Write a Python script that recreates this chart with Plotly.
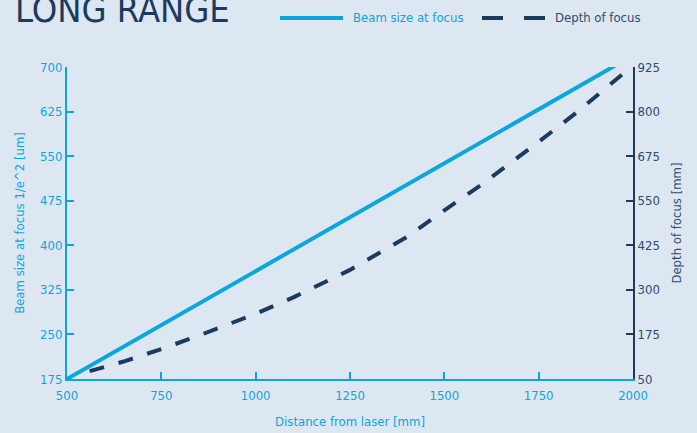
import plotly.graph_objects as go

# ---- data ----
distance_beam = [500, 750, 1000, 1250, 1500, 1750, 1960]
beam_size = [175, 266, 357, 447, 538, 629, 705]

distance_depth = [560, 650, 750, 850, 1000, 1100, 1250, 1400, 1500, 1600, 1750, 1850, 1995]
depth_focus = [72, 99, 134, 172, 233, 279, 356, 448, 523, 596, 715, 797, 925]

x_ticks = [500, 750, 1000, 1250, 1500, 1750, 2000]
y1_ticks = [175, 250, 325, 400, 475, 550, 625, 700]
y2_ticks = [50, 175, 300, 425, 550, 675, 800, 925]

CYAN = "#0aa6dc"
NAVY = "#1c3a5e"
NAVY_TXT = "#2f4b6e"
BG = "#dde7f1"
FONT = "DejaVu Sans Condensed, Liberation Sans Narrow, sans-serif"
FS = 13

fig = go.Figure()
fig.add_trace(go.Scatter(x=distance_beam, y=beam_size, mode="lines",
                         line=dict(color=CYAN, width=4), name="Beam size at focus",
                         showlegend=False, yaxis="y"))
fig.add_trace(go.Scatter(x=distance_depth, y=depth_focus, mode="lines",
                         line=dict(color=NAVY, width=4, dash="15px,15px"),
                         name="Depth of focus", showlegend=False, yaxis="y2"))

L, R, T, B = 67, 64, 67, 54
W, H = 697, 433
pw, ph = W - L - R, H - T - B

def px(p):
    return (p - L) / pw

def py(p):
    return (H - B - p) / ph

fig.update_layout(
    width=W, height=H,
    margin=dict(l=L, r=R, t=T, b=B, autoexpand=False),
    paper_bgcolor=BG, plot_bgcolor=BG,
    font=dict(family=FONT, size=FS, color=CYAN),
    hovermode=False,
    xaxis=dict(range=[500, 2000], tickvals=x_ticks, ticktext=[str(v) for v in x_ticks],
               automargin=False,
               showgrid=False, zeroline=False, showline=True, linecolor=CYAN, linewidth=2,
               ticks="inside", ticklen=7, tickcolor=CYAN, tickwidth=2, ticklabelstandoff=3,
               tickfont=dict(color=CYAN, size=FS),
               title=dict(text="Distance from laser [mm]", font=dict(color=CYAN, size=FS), standoff=15)),
    yaxis=dict(range=[175, 700], tickvals=y1_ticks, ticktext=[str(v) for v in y1_ticks],
               automargin=False,
               showgrid=False, zeroline=False, showline=True, linecolor=CYAN, linewidth=2,
               ticks="inside", ticklen=7, tickcolor=CYAN, tickwidth=2,
               tickfont=dict(color=CYAN, size=FS),
               title=dict(text="Beam size at focus 1/e^2 [um]", font=dict(color=CYAN, size=FS), standoff=13)),
    yaxis2=dict(range=[50, 925], tickvals=y2_ticks, ticktext=[str(v) for v in y2_ticks],
                overlaying="y", side="right", automargin=False,
                showgrid=False, zeroline=False, showline=True, linecolor=NAVY, linewidth=2,
                ticks="inside", ticklen=7, tickcolor=NAVY, tickwidth=2,
                tickfont=dict(color=NAVY_TXT, size=FS),
                title=dict(text="Depth of focus [mm]", font=dict(color=NAVY_TXT, size=FS), standoff=13)),
    shapes=[
        dict(type="line", xref="paper", yref="paper", x0=px(280), x1=px(343), y0=py(18), y1=py(18),
             line=dict(color=CYAN, width=4)),
        dict(type="line", xref="paper", yref="paper", x0=px(482), x1=px(545), y0=py(18), y1=py(18),
             line=dict(color=NAVY, width=4, dash="21px,21px")),
    ],
    annotations=[
        dict(text="LONG RANGE", xref="paper", yref="paper", x=px(13), y=py(9),
             xanchor="left", yanchor="middle", showarrow=False,
             font=dict(family=FONT, size=36, color=NAVY)),
        dict(text="Beam size at focus", xref="paper", yref="paper", x=px(351), y=py(18),
             xanchor="left", yanchor="middle", showarrow=False,
             font=dict(family=FONT, size=FS, color=CYAN)),
        dict(text="Depth of focus", xref="paper", yref="paper", x=px(553), y=py(18),
             xanchor="left", yanchor="middle", showarrow=False,
             font=dict(family=FONT, size=FS, color=NAVY_TXT)),
    ],
)

fig.write_html("out.html", config={"displayModeBar": False},
               post_script="document.body.style.margin='0px';document.body.style.background='%s';" % BG)
